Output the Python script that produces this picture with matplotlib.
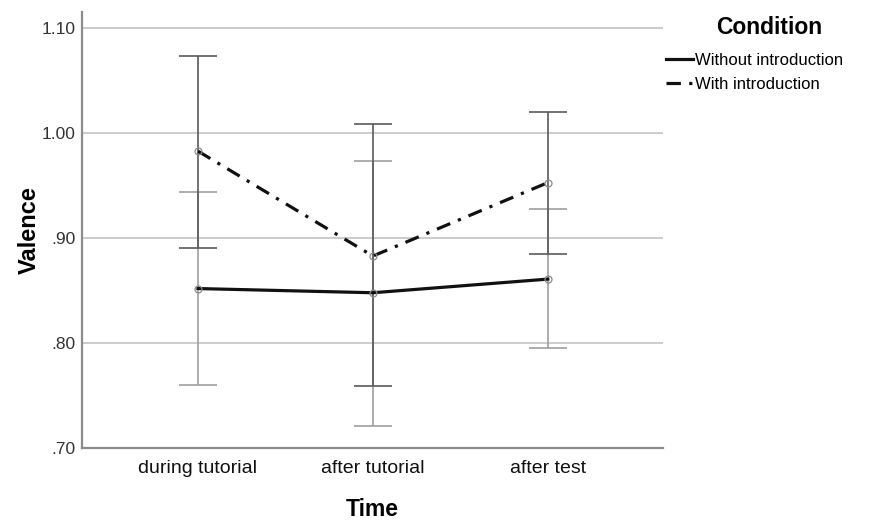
import matplotlib.pyplot as plt
from matplotlib.lines import Line2D

plt.rcParams['font.family'] = ['Liberation Sans', 'DejaVu Sans']

times = ['during tutorial', 'after tutorial', 'after test']
conditions = ['Without introduction', 'With introduction']

# means and 95% CI bounds
without_mean = [0.852, 0.848, 0.861]
without_lo = [0.760, 0.721, 0.795]
without_hi = [0.944, 0.974, 0.928]

with_mean = [0.983, 0.883, 0.953]
with_lo = [0.891, 0.759, 0.885]
with_hi = [1.074, 1.009, 1.020]

yticks = [0.70, 0.80, 0.90, 1.00, 1.10]
ytick_labels = ['.70', '.80', '.90', '1.00', '1.10']

dashdot = (0, (4.5, 2.6, 1, 2.6))

fig = plt.figure(figsize=(8.79, 5.20), dpi=100)
ax = fig.add_axes([0.0933, 0.1385, 0.6607, 0.8385])

x = list(range(len(times)))

series = [
    (without_mean, without_lo, without_hi, '#a0a0a0', '-'),
    (with_mean, with_lo, with_hi, '#5a5a5a', dashdot),
]

# error bars first, lines on top
for mean, lo, hi, ecol, ls in series:
    yerr = [[m - l for m, l in zip(mean, lo)], [h - m for m, h in zip(mean, hi)]]
    ax.errorbar(x, mean, yerr=yerr, fmt='none', ecolor=ecol, elinewidth=1.2,
                capsize=14, capthick=1.2, zorder=2)

for mean, lo, hi, ecol, ls in series:
    ax.plot(x, mean, color='#111111', linestyle=ls, lw=2.3, zorder=3)
    ax.plot(x, mean, linestyle='none', marker='o', markersize=5,
            mfc='none', mec='#8a8a8a', mew=0.9, zorder=4)

ax.set_xlim(-0.663, 2.657)
ax.set_ylim(0.70, 1.1157)
ax.set_xticks(x)
ax.set_xticklabels(times, fontsize=14, color='#111111')
ax.set_yticks(yticks)
ax.set_yticklabels(ytick_labels, fontsize=12.5, color='#333333')
ax.tick_params(length=0)
ax.tick_params(axis='x', pad=9)
ax.tick_params(axis='y', pad=4.5)

ax.grid(axis='y', color='#c8c8c8', lw=1.3)
ax.set_axisbelow(True)
for side in ['top', 'right']:
    ax.spines[side].set_visible(False)
for side in ['left', 'bottom']:
    ax.spines[side].set_color('#8c8c8c')
    ax.spines[side].set_linewidth(1.6)

ax.set_xlabel('Time', fontsize=16.5, fontweight='bold', labelpad=15)
ax.set_ylabel('Valence', fontsize=17, fontweight='bold', labelpad=1)

fig.text(0.8755, 0.948, 'Condition', fontsize=16.5, fontweight='bold',
         ha='center', va='center')

handles = [
    Line2D([], [], color='#111111', lw=2.3, linestyle='-'),
    Line2D([], [], color='#111111', lw=2.3, linestyle=dashdot),
]
fig.legend(handles, conditions, loc='upper left', bbox_to_anchor=(0.758, 0.899),
           frameon=False, fontsize=12, handlelength=1.6, handletextpad=0.15,
           labelspacing=0.58, borderpad=0, borderaxespad=0)

fig.savefig('out.png', dpi=100)
